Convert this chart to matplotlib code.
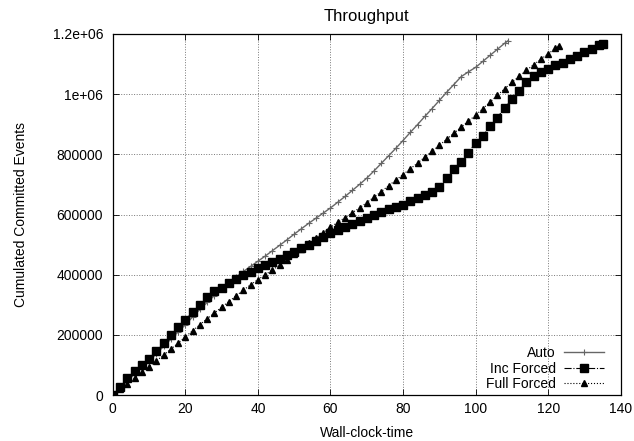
import numpy as np
import matplotlib.pyplot as plt

plt.rcParams["font.family"] = ["Liberation Sans", "DejaVu Sans"]
plt.rcParams["font.size"] = 10

# wall-clock time (s) and cumulated committed events (thousands)
auto_t = [0, 2, 4, 6, 8, 10, 12, 14, 16, 18, 20, 22, 24, 26, 28, 30, 32, 34, 36, 38,
          40, 42, 44, 46, 48, 50, 52, 54, 56, 58, 60, 62, 64, 66, 68, 70, 72, 74, 76, 78,
          80, 82, 84, 86, 88, 90, 92, 94, 96, 98, 100, 102, 104, 106, 108, 109]
auto_v = [0, 22, 48, 70, 92, 114, 138, 162, 186, 210, 234, 260, 285, 308, 331, 352, 373, 392, 411, 428,
          445, 462, 480, 498, 516, 535, 553, 571, 588, 605, 622, 641, 660, 680, 700, 721, 745, 770, 795, 820,
          846, 873, 899, 926, 952, 979, 1006, 1032, 1058, 1074, 1089, 1109, 1129, 1149, 1169, 1178]

inc_t = [0, 2, 4, 6, 8, 10, 12, 14, 16, 18, 20, 22, 24, 26, 28, 30, 32, 34, 36, 38,
         40, 42, 44, 46, 48, 50, 52, 54, 56, 58, 60, 62, 64, 66, 68, 70, 72, 74, 76, 78,
         80, 82, 84, 86, 88, 90, 92, 94, 96, 98, 100, 102, 104, 106, 108, 110, 112, 114, 116, 118,
         120, 122, 124, 126, 128, 130, 132, 134, 135]
inc_v = [0, 28, 56, 80, 100, 121, 147, 173, 199, 226, 251, 275, 299, 325, 345, 356, 371, 386, 399, 410,
         421, 431, 442, 453, 464, 476, 488, 500, 512, 526, 538, 548, 558, 568, 578, 588, 598, 610, 618, 626,
         633, 644, 654, 665, 676, 692, 722, 750, 776, 806, 838, 862, 893, 922, 955, 985, 1012, 1040, 1060, 1072,
         1084, 1096, 1105, 1117, 1128, 1140, 1151, 1162, 1168]

full_t = [0, 2, 4, 6, 8, 10, 12, 14, 16, 18, 20, 22, 24, 26, 28, 30, 32, 34, 36, 38,
          40, 42, 44, 46, 48, 50, 52, 54, 56, 58, 60, 62, 64, 66, 68, 70, 72, 74, 76, 78,
          80, 82, 84, 86, 88, 90, 92, 94, 96, 98, 100, 102, 104, 106, 108, 110, 112, 114, 116, 118,
          120, 122, 123]
full_v = [0, 19, 38, 57, 76, 95, 114, 133, 153, 173, 194, 214, 234, 254, 273, 292, 311, 330, 349, 367,
          384, 400, 416, 432, 450, 468, 486, 504, 522, 540, 558, 574, 590, 606, 622, 640, 658, 676, 696, 714,
          733, 752, 771, 791, 810, 830, 850, 870, 890, 910, 930, 952, 974, 996, 1018, 1039, 1059, 1079, 1098, 1116,
          1134, 1152, 1161]

x_ticks = [0, 20, 40, 60, 80, 100, 120, 140]
y_ticks = [0, 200000, 400000, 600000, 800000, 1000000, 1200000]
y_labels = ["0", "200000", "400000", "600000", "800000", "1e+06", "1.2e+06"]

fig = plt.figure(figsize=(6.34, 4.41), dpi=100)
ax = fig.add_axes([0.178, 0.104, 0.801, 0.819])

ax.plot(auto_t, np.array(auto_v) * 1000, color="#666666", lw=1.0, ls="-",
        marker="+", ms=4, mew=0.8, label="Auto")
ax.plot(inc_t, np.array(inc_v) * 1000, color="black", lw=0.8, ls="-.",
        marker="s", ms=5.5, label="Inc Forced")
ax.plot(full_t, np.array(full_v) * 1000, color="black", lw=0.8, ls=":",
        marker="^", ms=4, label="Full Forced")

ax.set_xlim(0, 140)
ax.set_ylim(0, 1200000)
ax.set_xticks(x_ticks)
ax.set_yticks(y_ticks)
ax.set_yticklabels(y_labels)
ax.tick_params(direction="in", top=True, right=True, length=4, width=0.6)
ax.tick_params(axis="x", pad=5)
ax.tick_params(axis="y", pad=7)
ax.grid(True, color="#777777", ls=":", lw=0.7)
for s in ax.spines.values():
    s.set_linewidth(0.9)

ax.set_title("Throughput", pad=9)
ax.set_xlabel("Wall-clock-time", labelpad=7)
ax.set_ylabel("Cumulated Committed Events", labelpad=18)

# markerfirst=False right-aligns the entries, text sits left of the sample
ax.legend(loc="lower right", bbox_to_anchor=(0.976, 0.0), frameon=False,
          markerfirst=False, numpoints=1, handlelength=2.9, handletextpad=0.6,
          labelspacing=0.1, borderaxespad=0.0, borderpad=0.3)

fig.savefig("out.png", dpi=100)
